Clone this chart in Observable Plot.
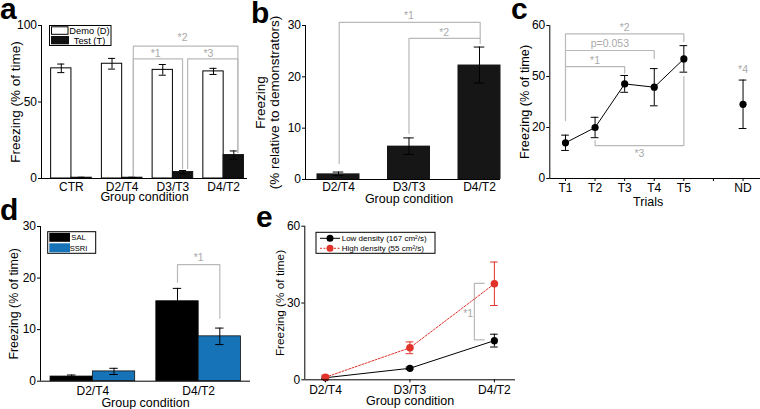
<!DOCTYPE html>
<html><head><meta charset="utf-8">
<script src="https://cdn.jsdelivr.net/npm/d3@7"></script>
<script src="https://cdn.jsdelivr.net/npm/@observablehq/plot@0.6"></script>
<style>
body{margin:0;background:#fff;}
#fig{position:relative;width:760px;height:409px;overflow:hidden;background:#fff;font-family:"Liberation Sans",Arial,Helvetica,sans-serif;}
#fig > .panel{position:absolute;}
#overlay{position:absolute;left:0;top:0;pointer-events:none;}
#fig .panel svg g[aria-label*="axis"],
#fig .panel svg g[aria-label*="axis"] text{font-size:12px !important;}
</style></head><body><div id="fig"></div>
<script>
// ---------------- DATA ----------------
// Panel a
const aGroups = ["CTR", "D2/T4", "D3/T3", "D4/T2"];
const aSeries = ["Demo (D)", "Test (T)"];
const aDemo = [72, 75, 71, 70];
const aDemoErr = [2.8, 3.5, 3.5, 2.0];
const aTest = [0.5, 0.5, 4.2, 15.3];
const aTestErr = [0.3, 0.3, 1.0, 2.7];
const aYTicks = [0, 50, 100];
const aSig = [
  {label: "*1", path: [[1.22, 2], [1.22, 78.2], [2.19, 78.2], [2.19, 6.5]], lx: 1.66, ly: 81.7},
  {label: "*2", path: [[1.22, 2], [1.22, 86.5], [3.28, 86.5], [3.28, 17]], lx: 2.19, ly: 92.2},
  {label: "*3", path: [[2.29, 6.5], [2.29, 78.2], [3.28, 78.2], [3.28, 17]], lx: 2.70, ly: 81.7}
];

// Panel b
const bGroups = ["D2/T4", "D3/T3", "D4/T2"];
const bValues = [1.1, 6.5, 22.3];
const bErr = [0.35, 1.6, 3.5];
const bYTicks = [0, 10, 20, 30];
const bSig = [
  {label: "*1", path: [[0.01, 3.1], [0.01, 30.6], [2.01, 30.6], [2.01, 26.5]], lx: 1.0, ly: 31.9},
  {label: "*2", path: [[1.0, 9.0], [1.0, 27.5], [2.01, 27.5]], lx: 1.5, ly: 28.7}
];

// Panel c
const cTickLabels = ["T1", "T2", "T3", "T4", "T5", "", "ND"];
const cTrials = ["T1", "T2", "T3", "T4", "T5", "ND"];
const cValues = [14, 20, 37.1, 35.8, 46.9, 29.1];
const cErr = [3.0, 4.0, 3.3, 7.3, 5.2, 9.5];
const cYTicks = [0, 20, 40, 60];
const cYTickLabels = ["0", "20", "50", "60"];
const cSig = [
  {label: "*2", path: [[0, 22.7], [0, 56.7], [4, 56.7], [4, 53.7]], lx: 2.0, ly: 59.2},
  {label: "p=0.053", path: [[0, 50.2], [3, 50.2], [3, 47.1]], lx: 1.5, ly: 52.8},
  {label: "*1", path: [[0, 43.9], [2, 43.9], [2, 41.3]], lx: 1.0, ly: 46.3},
  {label: "*3", path: [[1, 14.9], [1, 12.9], [4, 12.9], [4, 40]], lx: 2.5, ly: 9.6},
  {label: "*4", path: [], lx: 6, ly: 42.7}
];

// Panel d
const dGroups = ["D2/T4", "D4/T2"];
const dSeries = ["SAL", "SSRI"];
const dSAL = [0.9, 15.5];
const dSALErr = [0.3, 2.5];
const dSSRI = [1.9, 8.7];
const dSSRIErr = [0.6, 1.6];
const dYTicks = [0, 10, 20, 30];
const dSig = [
  {label: "*1", path: [[0.8, 19.2], [0.8, 22.6], [1.2, 22.6], [1.2, 12.2]], lx: 1.0, ly: 24.0}
];

// Panel e
const eGroups = ["D2/T4", "D3/T3", "D4/T2"];
const eSeries = ["Low density (167 cm\u00B2/s)", "High density (55 cm\u00B2/s)"];
const eLow = [0.8, 4.5, 15.3];
const eLowErr = [0.3, 0.5, 2.5];
const eHigh = [1.0, 12.5, 37.5];
const eHighErr = [0.8, 2.3, 8.5];
const eYTicks = [0, 30, 60];
const eSig = [
  {label: "*1", path: [[1.88, 37.7], [1.763, 37.7], [1.763, 15.6], [1.88, 15.6]], lx: 1.69, ly: 25.7}
];

// ---------------- STYLE ----------------
const FONT = '"Liberation Sans", Arial, Helvetica, sans-serif';
const GRAY_LINE = "#b9b9b9";
const GRAY_TEXT = "#a9a9a9";
const BLUE = "#1673b8";
const RED = "#e2332b";
const baseStyle = {fontFamily: FONT, fontSize: "12px", background: "transparent", color: "black", overflow: "visible"};

function errorBars(rows, xf, vf, ef, cap, color) {
  return [
    Plot.ruleX(rows, {x: xf, y1: d => vf(d) - ef(d), y2: d => vf(d) + ef(d), stroke: color, strokeWidth: 1}),
    Plot.ruleY(rows, {y: d => vf(d) + ef(d), x1: d => xf(d) - cap, x2: d => xf(d) + cap, stroke: color, strokeWidth: 1}),
    Plot.ruleY(rows, {y: d => vf(d) - ef(d), x1: d => xf(d) - cap, x2: d => xf(d) + cap, stroke: color, strokeWidth: 1})
  ];
}
function sigMarks(sig, fontSize) {
  const pts = sig.flatMap((s, k) => s.path.map(p => ({k, x: p[0], y: p[1]})));
  return [
    Plot.line(pts, {x: "x", y: "y", z: "k", stroke: GRAY_LINE, strokeWidth: 1.2, curve: "linear"}),
    Plot.text(sig, {x: "lx", y: "ly", text: "label", fill: GRAY_TEXT, fontSize})
  ];
}
function yTitle(text, dx, size) {
  return Plot.text([text], {text: d => d, frameAnchor: "left", textAnchor: "middle", lineAnchor: "middle", dx, rotate: -90, fontSize: size, lineHeight: 1.0});
}
function xTitle(text, dy, size, dx = 0) {
  return Plot.text([text], {text: d => d, frameAnchor: "bottom", textAnchor: "middle", lineAnchor: "middle", dy, dx, fontSize: size});
}
function place(svg, left, top) {
  const div = document.createElement("div");
  div.className = "panel";
  div.style.left = left + "px";
  div.style.top = top + "px";
  div.appendChild(svg);
  document.getElementById("fig").appendChild(div);
}

// ---------------- PANEL A ----------------
const aRows = aGroups.map((g, i) => ({i, demo: aDemo[i], demoErr: aDemoErr[i], test: aTest[i], testErr: aTestErr[i]}));
const aBW = 0.4;
const aX = [-0.59, 3.47];
place(Plot.plot({
  width: 250, height: 200, marginLeft: 41, marginRight: 3, marginTop: 25, marginBottom: 22,
  style: baseStyle,
  x: {domain: aX, ticks: aGroups.map((_, i) => i), tickFormat: i => aGroups[i], tickSize: 0, tickPadding: 4, label: null},
  y: {domain: [0, 100], ticks: aYTicks, tickSize: 3, tickPadding: 1.5, label: null},
  marks: [
    ...sigMarks(aSig, 10.5),
    Plot.rectY(aRows, {x1: d => d.i - aBW, x2: d => d.i, y: "demo", fill: "white", stroke: "black", strokeWidth: 1}),
    Plot.rectY(aRows, {x1: d => d.i, x2: d => d.i + aBW, y: "test", fill: "#111", stroke: "#111", strokeWidth: 1}),
    ...errorBars(aRows, d => d.i - aBW / 2, d => d.demo, d => d.demoErr, 0.07, "black"),
    ...errorBars(aRows, d => d.i + aBW / 2, d => d.test, d => d.testErr, 0.07, "black"),
    Plot.ruleY([0], {stroke: "black"}),
    Plot.ruleX([aX[0]], {stroke: "black"}),
    yTitle("Freezing (% of time)", -26, 13.5),
    xTitle("Group condition", 18.5, 12.5)
  ]
}), 0, 0);

// ---------------- PANEL B ----------------
const bRows = bGroups.map((g, i) => ({i, v: bValues[i], e: bErr[i]}));
const bHW = 0.305;
const bX = [-0.468, 2.298];
place(Plot.plot({
  width: 250, height: 200, marginLeft: 55, marginRight: 0, marginTop: 25, marginBottom: 21,
  style: baseStyle,
  x: {domain: bX, ticks: bGroups.map((_, i) => i), tickFormat: i => bGroups[i], tickSize: 0, tickPadding: 3, label: null},
  y: {domain: [0, 30], ticks: bYTicks, tickSize: 3, tickPadding: 1.5, label: null},
  marks: [
    ...sigMarks(bSig, 10.5),
    Plot.rectY(bRows, {x1: d => d.i - bHW, x2: d => d.i + bHW, y: "v", fill: "#161616"}),
    ...errorBars(bRows, d => d.i, d => d.v, d => d.e, 0.075, "black"),
    Plot.ruleY([0], {stroke: "black"}),
    Plot.ruleX([bX[0]], {stroke: "black"}),
    yTitle("Freezing\n(% relative to demonstrators)", -38, 13.5),
    xTitle("Group condition", 19.5, 12.5, 6)
  ]
}), 250, 0);

// ---------------- PANEL C ----------------
const cRows = cTrials.map((t, k) => ({i: cTickLabels.indexOf(t), v: cValues[k], e: cErr[k], t}));
const cX = [-0.53, 6.59];
place(Plot.plot({
  width: 260, height: 200, marginLeft: 49.3, marginRight: 0, marginTop: 25, marginBottom: 22,
  style: baseStyle,
  x: {domain: cX, ticks: cTickLabels.map((_, i) => i), tickFormat: i => cTickLabels[i], tickSize: 3, tickPadding: 2, label: null},
  y: {domain: [0, 60], ticks: cYTicks, tickFormat: v => cYTickLabels[cYTicks.indexOf(v)], tickSize: 3, tickPadding: 1.5, label: null},
  marks: [
    ...sigMarks(cSig, 10.5),
    Plot.line(cRows.filter(d => d.t !== "ND"), {x: "i", y: "v", stroke: "black", strokeWidth: 1}),
    ...errorBars(cRows, d => d.i, d => d.v, d => d.e, 0.13, "black"),
    Plot.dot(cRows, {x: "i", y: "v", r: 3.6, fill: "black"}),
    Plot.ruleY([0], {stroke: "black"}),
    Plot.ruleX([cX[0]], {stroke: "black"}),
    yTitle("Freezing (% of time)", -24.5, 12.7),
    xTitle("Trials", 23.5, 12.5, -7)
  ]
}), 500, 0);

// ---------------- PANEL D ----------------
const dRows = dGroups.map((g, i) => ({i, sal: dSAL[i], salErr: dSALErr[i], ssri: dSSRI[i], ssriErr: dSSRIErr[i]}));
const dBW = 0.4;
const dX = [-0.495, 1.49];
place(Plot.plot({
  width: 250, height: 209, marginLeft: 40, marginRight: 0, marginTop: 26, marginBottom: 28.3,
  style: baseStyle,
  x: {domain: dX, ticks: dGroups.map((_, i) => i), tickFormat: i => dGroups[i], tickSize: 0, tickPadding: 5, label: null},
  y: {domain: [0, 30], ticks: dYTicks, tickSize: 3, tickPadding: 1.5, label: null},
  marks: [
    ...sigMarks(dSig, 10.5),
    Plot.rectY(dRows, {x1: d => d.i - dBW, x2: d => d.i, y: "sal", fill: "black", stroke: "black", strokeWidth: 0.8}),
    Plot.rectY(dRows, {x1: d => d.i, x2: d => d.i + dBW, y: "ssri", fill: BLUE, stroke: "#111", strokeWidth: 0.8}),
    ...errorBars(dRows, d => d.i - dBW / 2, d => d.sal, d => d.salErr, 0.04, "black"),
    ...errorBars(dRows, d => d.i + dBW / 2, d => d.ssri, d => d.ssriErr, 0.04, "black"),
    Plot.ruleY([0], {stroke: "black"}),
    Plot.ruleX([dX[0]], {stroke: "black"}),
    yTitle("Freezing (% of time)", -26.7, 12.4),
    xTitle("Group condition", 21.5, 12.5)
  ]
}), 0, 200);

// ---------------- PANEL E ----------------
const eLowRows = eGroups.map((g, i) => ({i, v: eLow[i], e: eLowErr[i]}));
const eHighRows = eGroups.map((g, i) => ({i, v: eHigh[i], e: eHighErr[i]}));
const eX = [-0.245, 2.25];
place(Plot.plot({
  width: 290, height: 209, marginLeft: 54.3, marginRight: 25, marginTop: 25.7, marginBottom: 29.7,
  style: baseStyle,
  x: {domain: eX, ticks: eGroups.map((_, i) => i), tickFormat: i => eGroups[i], tickSize: 3, tickPadding: 2.5, label: null},
  y: {domain: [0, 60], ticks: eYTicks, tickSize: 3, tickPadding: 1.5, label: null},
  marks: [
    ...sigMarks(eSig, 10.5),
    Plot.line(eLowRows, {x: "i", y: "v", stroke: "black", strokeWidth: 1}),
    Plot.line(eHighRows, {x: "i", y: "v", stroke: RED, strokeWidth: 1, strokeDasharray: "2,1.5"}),
    ...errorBars(eLowRows, d => d.i, d => d.v, d => d.e, 0.045, "black"),
    ...errorBars(eHighRows, d => d.i, d => d.v, d => d.e, 0.045, RED),
    Plot.dot(eLowRows, {x: "i", y: "v", r: 3.6, fill: "black"}),
    Plot.dot(eHighRows, {x: "i", y: "v", r: 3.8, fill: RED}),
    Plot.ruleY([0], {stroke: "black"}),
    Plot.ruleX([eX[0]], {stroke: "black"}),
    yTitle("Freezing (% of time)", -25, 11.8),
    xTitle("Group condition", 21.5, 12.5)
  ]
}), 250, 200);

// ---------------- OVERLAY: panel letters and legends ----------------
const ov = d3.select("#fig").append("svg").attr("id", "overlay").attr("width", 760).attr("height", 409)
  .style("font-family", FONT);
const letters = [["a", 0, 19], ["b", 251, 23], ["c", 511, 18.5], ["d", 0, 220], ["e", 256, 227]];
ov.selectAll("text.letter").data(letters).join("text").attr("class", "letter")
  .attr("x", d => d[1]).attr("y", d => d[2]).attr("font-size", 30).attr("font-weight", "bold").text(d => d[0]);

// legend a
const la = ov.append("g");
la.append("rect").attr("x", 49.5).attr("y", 25.5).attr("width", 61.5).attr("height", 20).attr("fill", "white").attr("stroke", "black");
la.selectAll("rect.sw").data(aSeries).join("rect").attr("class", "sw")
  .attr("x", (d, i) => i ? 51 : 51.5).attr("y", (d, i) => i ? 36 : 26.8).attr("width", (d, i) => i ? 18 : 16.5).attr("height", (d, i) => i ? 8.3 : 7.5)
  .attr("fill", (d, i) => i ? "#111" : "white").attr("stroke", (d, i) => i ? "none" : "black");
la.selectAll("text").data(aSeries).join("text").attr("x", 89.5).attr("y", (d, i) => 33.5 + 10 * i)
  .attr("text-anchor", "middle").attr("font-size", 9.3).text(d => d);

// legend d
const ld = ov.append("g");
ld.append("rect").attr("x", 47.7).attr("y", 231.7).attr("width", 48).attr("height", 21.6).attr("fill", "white").attr("stroke", "black");
ld.selectAll("rect.sw").data(dSeries).join("rect").attr("class", "sw")
  .attr("x", 49.3).attr("y", (d, i) => 232.8 + 10.5 * i).attr("width", 20.7).attr("height", 9)
  .attr("fill", (d, i) => i ? BLUE : "black");
ld.selectAll("text").data(dSeries).join("text").attr("x", 78.5).attr("y", (d, i) => 240 + 10.5 * i)
  .attr("text-anchor", "middle").attr("font-size", 7.6).text(d => d);

// legend e
const le = ov.append("g");
le.append("rect").attr("x", 316).attr("y", 232.3).attr("width", 119).attr("height", 21).attr("fill", "white").attr("stroke", "black");
const leRows = le.selectAll("g.row").data(eSeries).join("g").attr("class", "row");
leRows.append("line").attr("x1", 320).attr("x2", 340).attr("y1", (d, i) => 238.3 + 10 * i).attr("y2", (d, i) => 238.3 + 10 * i)
  .attr("stroke", (d, i) => i ? RED : "black").attr("stroke-dasharray", (d, i) => i ? "2,1.5" : null);
leRows.append("circle").attr("cx", 330).attr("cy", (d, i) => 238.3 + 10 * i).attr("r", 3.5).attr("fill", (d, i) => i ? RED : "black");
leRows.append("text").attr("x", 341.7).attr("y", (d, i) => 241 + 10 * i).attr("font-size", 8).text(d => d);
</script></body></html>
